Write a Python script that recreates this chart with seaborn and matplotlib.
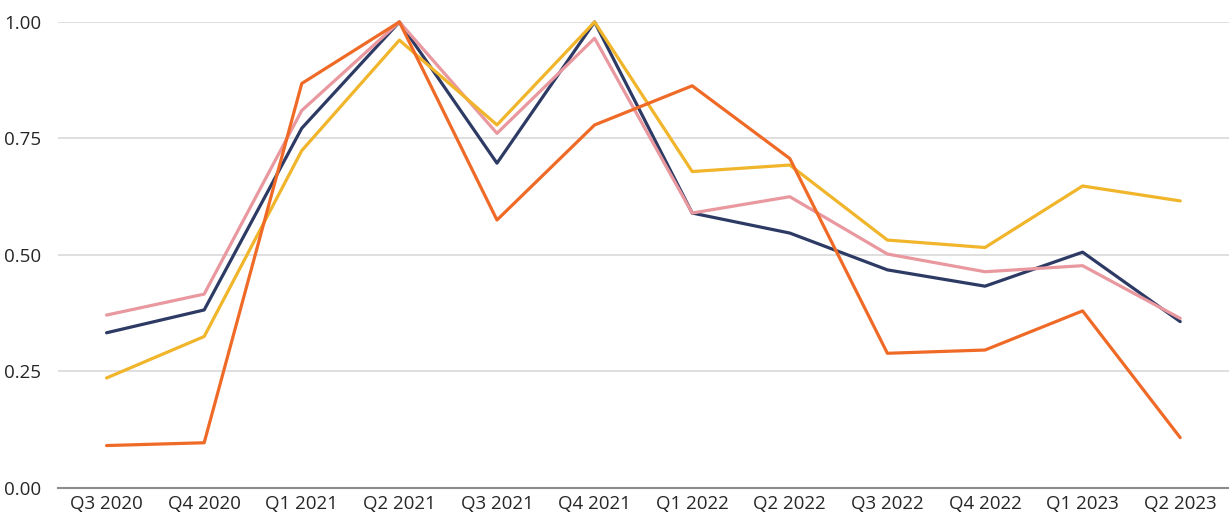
import pandas as pd
import numpy as np
import matplotlib
matplotlib.use("Agg")
import matplotlib.pyplot as plt
import seaborn as sns

quarters = ['Q3 2020', 'Q4 2020', 'Q1 2021', 'Q2 2021', 'Q3 2021', 'Q4 2021',
            'Q1 2022', 'Q2 2022', 'Q3 2022', 'Q4 2022', 'Q1 2023', 'Q2 2023']

# values (normalised, peak = 1)
navy = [0.333, 0.382, 0.772, 1.00, 0.697, 1.00, 0.590, 0.547, 0.468, 0.433, 0.506, 0.357]
pink = [0.371, 0.416, 0.810, 1.00, 0.761, 0.965, 0.590, 0.625, 0.502, 0.464, 0.477, 0.364]
yellow = [0.236, 0.325, 0.724, 0.961, 0.779, 1.00, 0.679, 0.693, 0.532, 0.516, 0.648, 0.616]
orange = [0.091, 0.097, 0.868, 1.00, 0.575, 0.779, 0.863, 0.707, 0.289, 0.296, 0.380, 0.108]

series = {'navy': navy, 'pink': pink, 'yellow': yellow, 'orange': orange}
colors = {'navy': '#2d3a64', 'pink': '#e8989e', 'yellow': '#f0b52a', 'orange': '#ef6a26'}

# long-form table for seaborn
rows = []
for name, vals in series.items():
    for q, v in zip(quarters, vals):
        rows.append({'quarter': q, 'value': v, 'series': name})
df = pd.DataFrame(rows)

sns.set_style('white')
plt.rcParams['font.family'] = ['Open Sans', 'DejaVu Sans']

fig = plt.figure(figsize=(12.29, 5.23), dpi=100)
ax = fig.add_axes([0.047, 0.067, 0.953, 0.891])

sns.lineplot(data=df, x='quarter', y='value', hue='series', palette=colors,
             hue_order=['navy', 'pink', 'yellow', 'orange'],
             linewidth=2.3, legend=False, ax=ax, clip_on=False, zorder=3)

ax.set_ylim(0, 1.0)
ax.set_xlim(-0.5, len(quarters) - 0.5)
ax.set_yticks([0, 0.25, 0.5, 0.75, 1.0])
ax.set_yticklabels(['0.00', '0.25', '0.50', '0.75', '1.00'])
ax.yaxis.grid(True, color='#d9d9d9', linewidth=1.2)
ax.set_axisbelow(True)

for s in ['top', 'right', 'left']:
    ax.spines[s].set_visible(False)
ax.spines['bottom'].set_color('#8c8c8c')
ax.spines['bottom'].set_linewidth(1.5)

ax.tick_params(axis='both', length=0, labelsize=13.5, colors='#262626')
ax.tick_params(axis='x', pad=5)
ax.tick_params(axis='y', pad=12)
ax.set_xlabel('')
ax.set_ylabel('')

fig.savefig('out.png', dpi=100, facecolor='white')
